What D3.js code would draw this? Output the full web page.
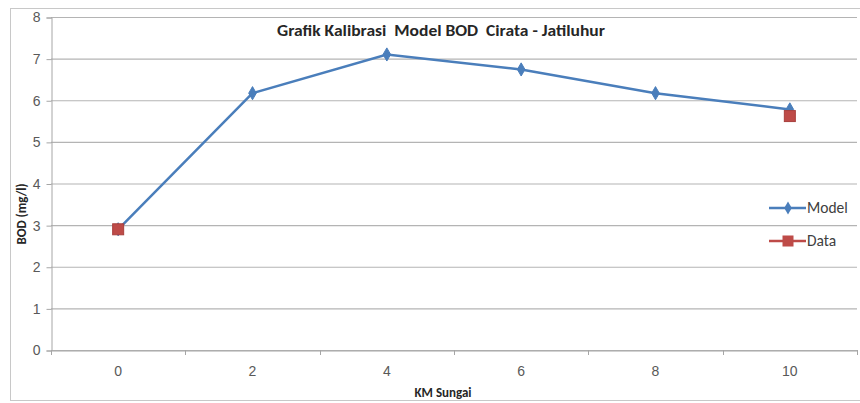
<!DOCTYPE html>
<html>
<head>
<meta charset="utf-8">
<script src="https://cdn.jsdelivr.net/npm/d3@7"></script>
<style>
  body { margin: 0; background: #fff; }
  svg { display: block; font-family: Calibri, Carlito, "Liberation Sans", Arial, sans-serif; }
</style>
</head>
<body>
<svg id="chart" width="860" height="403"></svg>
<script>
// KM along the river (category axis)
const km = [0, 2, 4, 6, 8, 10];
// Simulated BOD (mg/l)
const modelBOD = [2.9, 6.17, 7.1, 6.74, 6.17, 5.78];
// Observed BOD (mg/l), only at the two stations
const dataKm = [0, 10];
const dataBOD = [2.9, 5.62];
const yTicks = [0, 1, 2, 3, 4, 5, 6, 7, 8];

const svg = d3.select("#chart");
const W = 860, H = 403;
const plot = { left: 51, right: 857, top: 17, bottom: 350 };

// chart frame
svg.append("rect").attr("x", 10.5).attr("y", 8.5).attr("width", W - 10).attr("height", H - 11)
  .attr("fill", "#fff").attr("stroke", "#c8c8c8");

const x = d3.scaleBand().domain(km).range([plot.left, plot.right]).padding(0);
const y = d3.scaleLinear().domain([0, 8]).range([plot.bottom, plot.top]);

// horizontal gridlines
svg.append("g").selectAll("line").data(yTicks).join("line")
  .attr("x1", plot.left).attr("x2", plot.right)
  .attr("y1", d => y(d) + 0.5).attr("y2", d => y(d) + 0.5)
  .attr("stroke", "#b4b4b4").attr("stroke-width", 1.2);

// y axis
const yAxis = svg.append("g").attr("transform", `translate(${plot.left + 0.5},0.5)`)
  .call(d3.axisLeft(y).tickValues(yTicks).tickSize(5).tickPadding(6).tickFormat(d3.format("d")));
yAxis.select(".domain").attr("stroke", "#a6a6a6");
yAxis.selectAll(".tick line").attr("stroke", "#a6a6a6");
yAxis.selectAll("text").attr("fill", "#595959").attr("font-size", 14);

// x axis with ticks on category boundaries
const xAxis = svg.append("g").attr("transform", `translate(0,${plot.bottom + 0.5})`)
  .call(d3.axisBottom(x).tickSize(0).tickPadding(16));
xAxis.select(".domain").attr("stroke", "#a6a6a6");
xAxis.selectAll("text").attr("fill", "#595959").attr("font-size", 14);
const bounds = km.map(d => x(d)).concat([x(km[km.length - 1]) + x.bandwidth()]);
svg.append("g").selectAll("line").data(bounds).join("line")
  .attr("x1", d => Math.round(d) + 0.5).attr("x2", d => Math.round(d) + 0.5)
  .attr("y1", plot.bottom).attr("y2", plot.bottom + 5)
  .attr("stroke", "#a6a6a6");

const cx = d => x(d) + x.bandwidth() / 2;

// model line
const line = d3.line().x((d, i) => cx(km[i])).y(d => y(d));
svg.append("path").datum(modelBOD).attr("d", line)
  .attr("fill", "none").attr("stroke", "#4a7ebb").attr("stroke-width", 2.5);

const diamond = d3.symbol().type(d3.symbolDiamond).size(50);
svg.append("g").selectAll("path").data(modelBOD).join("path")
  .attr("transform", (d, i) => `translate(${cx(km[i])},${y(d)})`)
  .attr("d", diamond).attr("fill", "#4a7ebb").attr("stroke", "#4a7ebb");

// observed points
svg.append("g").selectAll("rect").data(dataBOD).join("rect")
  .attr("x", (d, i) => cx(dataKm[i]) - 5.5).attr("y", d => y(d) - 5.5)
  .attr("width", 11).attr("height", 11)
  .attr("fill", "#be4b48").attr("stroke", "#a8403d");

// titles
svg.append("text").attr("x", 277).attr("y", 36)
  .attr("font-size", 15).attr("font-weight", "bold").attr("fill", "#262626")
  .attr("textLength", 328).attr("lengthAdjust", "spacingAndGlyphs")
  .style("white-space", "pre")
  .text("Grafik Kalibrasi  Model BOD  Cirata - Jatiluhur");
svg.append("text").attr("x", 443).attr("y", 397).attr("text-anchor", "middle")
  .attr("font-size", 13).attr("font-weight", "bold").attr("fill", "#262626")
  .text("KM Sungai");
svg.append("text").attr("transform", "translate(26,214) rotate(-90)").attr("text-anchor", "middle")
  .attr("font-size", 13).attr("font-weight", "bold").attr("fill", "#262626")
  .text("BOD (mg/l)");

// legend
const legend = [
  { name: "Model", color: "#4a7ebb", shape: "diamond", y: 208 },
  { name: "Data", color: "#be4b48", shape: "square", y: 241 }
];
const lg = svg.append("g").selectAll("g").data(legend).join("g")
  .attr("transform", d => `translate(0,${d.y})`);
lg.append("line").attr("x1", 769).attr("x2", 806).attr("stroke", d => d.color).attr("stroke-width", 2.5);
lg.filter(d => d.shape === "diamond").append("path")
  .attr("transform", "translate(788,0)").attr("d", diamond).attr("fill", d => d.color);
lg.filter(d => d.shape === "square").append("rect")
  .attr("x", 782.5).attr("y", -5.5).attr("width", 11).attr("height", 11).attr("fill", d => d.color);
lg.append("text").attr("x", 807).attr("y", 5).attr("font-size", 15.5).attr("fill", "#404040")
  .text(d => d.name);
</script>
</body>
</html>
